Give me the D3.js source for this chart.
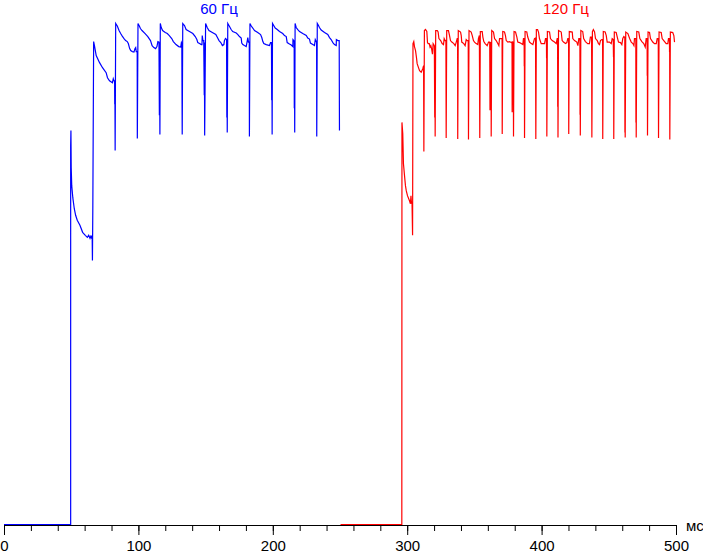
<!DOCTYPE html>
<html>
<head>
<meta charset="utf-8">
<script src="https://cdn.jsdelivr.net/npm/d3@7"></script>
<style>
  html, body { margin: 0; padding: 0; background: #ffffff; }
  svg { display: block; }
  text { font-family: "Liberation Sans", Arial, sans-serif; }
</style>
</head>
<body>
<svg id="chart" width="703" height="553"></svg>
<script>
// ---- Data (time in ms, brightness in % of max) ----
const majorTicks = [0, 100, 200, 300, 400, 500];
const tickLabels = ["0", "100", "200", "300", "400", "500"];
const unitLabel = "мс";
const seriesNames = ["60 Гц", "120 Гц"];
const seriesColors = ["#0000ff", "#ff0000"];

const series60 = [
  [0,0],[49.6,0],
  [49.6,75.3],[49.8,78.5],[50.0,71.1],[50.4,67.5],[51.2,65.1],[52.3,62.9],[53.3,61.6],[54.5,60.6],[56.5,59.6],[58.5,58.2],[60.5,57.6],[62.0,57.2],[63.0,57.6],[64.0,57.0],[64.6,57.4],[65.3,57.0],[65.6,57.6],[65.8,52.6],[66.1,63.5],[66.7,96.2],
  [67.3,95.4],[68.6,93.4],[71.1,92.0],[73.3,91.0],[76.0,90.0],[77.0,89.0],[78.5,88.4],[80.7,88.0],[81.3,88.8],[81.8,88.4],[82.3,88.4],[82.4,83.7],[82.5,88.0],[82.7,74.5],[83.1,99.8],
  [84.3,99.3],[85.6,98.4],[86.8,97.8],[88.0,97.3],[89.3,96.8],[90.5,96.4],[91.7,96.2],[92.5,95.8],[93.5,94.8],[94.3,94.4],[95.5,94.2],[96.7,94.1],[97.5,94.8],[98.0,95.0],[98.4,94.2],[99.1,94.2],[99.2,76.9],[99.7,99.8],
  [100.7,99.3],[101.5,98.8],[102.7,98.4],[105.0,97.8],[107.0,97.2],[109.0,96.4],[110.2,95.4],[111.5,95.0],[112.8,94.8],[113.8,95.2],[114.5,96.2],[115.3,96.1],[115.6,81.5],[115.7,96.0],[116.0,77.7],[116.3,99.8],
  [117.0,99.0],[118.0,98.4],[120.0,98.0],[121.5,97.8],[123.0,97.4],[124.8,96.8],[126.0,96.2],[128.0,95.6],[130.0,95.2],[131.5,95.1],[132.0,96.0],[132.3,95.8],[132.6,77.7],[133.0,99.8],
  [134.3,99.4],[135.5,98.6],[138.0,98.2],[140.5,97.8],[142.3,97.2],[143.5,96.6],[144.2,96.0],[145.5,95.8],[146.8,95.6],[147.3,95.6],[147.5,97.4],[148.0,96.4],[148.6,96.4],[149.0,85.5],[149.1,96.0],[149.3,77.5],[150.0,99.8],
  [151.2,99.0],[152.5,98.4],[155.0,98.0],[157.6,97.6],[158.8,97.0],[160.0,96.4],[161.3,96.0],[162.5,95.4],[163.6,95.6],[164.0,96.4],[164.8,96.8],[165.6,96.6],[165.8,81.1],[165.9,96.0],[166.1,78.1],[166.5,99.8],
  [167.8,99.2],[169.0,98.6],[170.2,98.2],[172.8,97.9],[174.0,97.6],[175.2,97.2],[176.5,96.9],[176.9,95.9],[177.7,95.6],[178.9,95.4],[180.2,95.2],[180.9,96.2],[181.4,97.0],[181.9,96.1],[182.5,96.1],[182.6,77.3],[183.0,99.8],
  [184.0,99.3],[185.1,98.9],[186.4,98.4],[188.8,98.0],[190.9,97.6],[191.8,97.0],[192.6,96.2],[193.3,95.8],[195.1,95.6],[197.5,95.4],[198.3,96.0],[199.0,96.0],[199.2,84.5],[199.3,95.8],[199.5,77.7],[199.8,99.8],
  [200.7,99.4],[201.8,98.9],[203.3,98.6],[205.0,98.2],[207.4,97.8],[208.7,97.4],[210.0,97.2],[210.7,96.0],[212.4,95.7],[213.7,95.5],[214.9,95.2],[215.0,96.6],[215.6,96.4],[215.9,96.2],[216.0,82.9],[216.1,96.0],[216.3,78.1],[216.6,99.8],
  [217.4,99.0],[218.6,98.6],[219.9,98.2],[222.3,97.8],[224.9,97.4],[226.0,96.9],[227.3,96.7],[228.0,95.9],[229.8,95.6],[231.0,95.4],[231.6,96.6],[232.3,96.2],[232.6,96.2],[232.7,77.3],[233.1,99.8],
  [234.0,99.4],[234.7,99.0],[236.0,98.5],[238.5,98.0],[240.9,97.6],[242.2,97.0],[243.4,96.6],[244.7,96.0],[245.9,95.6],[247.2,95.4],[247.3,96.6],[248.4,96.4],[249.4,96.4],[249.6,78.5]
];

const series120 = [
  [250.4,0],[296.0,0],
  [296.1,80.1],[296.7,77.9],[297.2,71.9],[298.0,69.5],[298.7,67.5],[299.3,66.5],[300.2,65.5],[301.7,64.5],[302.4,63.9],[302.8,65.5],[303.2,64.0],[303.6,63.9],[304.0,57.6],[304.3,95.8],
  [304.9,96.2],[305.4,95.2],[306.2,94.4],[306.9,93.0],[307.4,91.8],[308.4,91.0],[309.2,90.4],[310.4,90.1],[311.6,90.8],[312.2,91.4],[312.4,74.3],[312.8,98.4],
  [313.6,98.6],[314.6,98.2],[315.1,96.0],[315.6,95.8],[316.4,95.8],[317.0,95.1],[317.6,95.4],[318.2,94.7],[318.8,93.7],[319.3,95.8],[320.2,95.4],[320.5,81.1],[320.6,95.2],[320.8,77.3],[321.2,98.4],
  [322.4,98.4],[323.0,98.1],[323.6,96.8],[324.9,96.4],[326.0,95.8],[327.0,95.6],[327.5,96.8],[328.2,96.4],[328.8,96.4],[329.0,77.0],[329.4,98.4],
  [330.7,98.4],[331.5,97.4],[332.2,96.4],[333.2,96.1],[334.7,95.8],[335.7,95.4],[336.5,96.1],[337.2,96.8],[337.5,96.8],[337.6,76.8],[338.0,98.4],
  [339.7,98.1],[340.2,97.4],[340.6,96.1],[342.1,95.8],[343.1,95.4],[343.9,96.6],[344.6,96.4],[345.4,96.4],[345.6,76.7],[346.0,98.4],
  [347.6,98.1],[348.4,97.4],[349.3,96.4],[350.1,96.1],[351.3,95.8],[352.5,95.6],[353.0,96.8],[353.7,97.4],[354.0,77.0],[354.4,98.2],
  [355.8,98.2],[356.3,97.1],[357.0,96.2],[358.0,95.8],[359.5,95.4],[360.5,96.1],[361.4,96.1],[361.6,82.5],[361.8,96.0],[362.4,96.0],[362.5,77.3],[362.9,98.4],
  [364.2,98.1],[365.0,96.8],[366.2,96.4],[367.4,95.8],[368.2,95.4],[368.7,96.8],[369.9,96.8],[370.6,96.8],[370.7,77.8],[371.1,98.2],
  [372.4,98.1],[373.1,97.4],[373.7,96.4],[374.9,96.1],[376.1,96.2],[377.4,96.0],[378.0,96.1],[378.1,82.1],[378.3,96.1],[378.9,96.1],[379.1,77.3],[379.5,98.2],
  [380.6,98.1],[381.6,97.1],[382.3,96.1],[383.6,96.0],[384.8,95.8],[386.0,95.6],[386.5,96.8],[387.0,96.8],[387.1,91.3],[387.2,96.6],[387.3,77.0],[387.7,98.2],
  [389.0,98.1],[389.7,97.1],[391.0,96.1],[392.3,95.8],[393.5,95.6],[394.7,96.8],[395.5,96.9],[395.7,76.8],[396.1,98.6],
  [397.0,98.6],[397.7,98.1],[398.4,96.8],[399.7,95.8],[402.2,95.8],[402.9,96.8],[403.6,96.8],[403.7,92.9],[403.8,96.6],[403.9,77.3],[404.3,98.2],
  [405.9,98.1],[406.6,96.8],[407.9,96.4],[409.6,96.1],[410.9,95.8],[411.6,96.8],[411.9,96.8],[412.0,83.2],[412.1,96.6],[412.2,77.1],[412.6,98.4],
  [414.6,98.1],[415.3,96.4],[416.3,96.1],[417.8,95.8],[418.8,96.0],[419.5,96.8],[420.1,96.8],[420.2,77.8],[420.6,98.2],
  [422.8,98.1],[423.2,96.8],[424.5,96.4],[426.2,96.1],[427.0,95.4],[427.7,96.8],[428.5,96.8],[428.6,81.6],[428.7,96.6],[428.8,77.5],[429.2,98.4],
  [430.6,98.2],[431.3,96.8],[432.6,96.2],[434.3,95.8],[435.6,95.8],[436.3,97.1],[437.2,97.1],[437.4,77.1],[437.8,98.2],
  [438.5,98.6],[439.4,98.1],[440.1,96.8],[441.4,96.4],[442.3,95.8],[443.1,95.6],[443.8,96.4],[444.8,96.6],[445.4,96.6],[445.5,76.8],[445.9,98.2],
  [447.3,98.1],[448.1,97.4],[448.8,96.1],[450.5,96.1],[451.8,95.8],[452.5,96.8],[453.3,96.6],[453.5,93.1],[453.6,96.6],[453.7,76.8],[454.1,98.1],
  [455.5,98.0],[456.3,97.1],[457.2,96.1],[458.7,96.0],[459.7,95.6],[460.4,96.8],[461.2,97.2],[461.9,97.0],[462.0,78.1],[462.1,97.0],[462.2,77.1],[462.6,98.1],
  [464.2,97.8],[465.5,96.8],[466.7,96.1],[467.9,95.8],[468.7,95.4],[469.1,96.8],[470.1,96.8],[470.2,80.1],[470.3,96.6],[470.4,77.1],[470.8,98.2],
  [472.3,98.1],[473.1,96.8],[474.6,96.2],[476.0,95.8],[477.1,95.1],[477.8,96.8],[478.5,96.8],[478.6,89.4],[478.7,96.6],[478.8,77.5],[479.2,98.1],
  [480.3,98.0],[481.0,96.8],[482.7,96.1],[484.0,95.8],[485.3,95.8],[486.0,96.8],[486.8,96.8],[487.0,77.0],[487.4,98.1],
  [489.0,98.0],[489.7,96.8],[490.9,96.4],[492.7,95.8],[493.9,95.8],[494.4,96.8],[495.1,96.8],[495.2,94.1],[495.3,96.6],[495.4,76.7],[495.8,98.1],
  [497.6,98.0],[498.4,97.4],[498.9,96.1]
];

// ---- Drawing ----
const svg = d3.select("#chart");
const x = d3.scaleLinear().domain([0, 500]).range([4, 676]);
const y = d3.scaleLinear().domain([0, 100]).range([524.5, 22.5]);

const line = d3.line().x(d => x(d[0])).y(d => y(d[1]));

// minor ticks
const minorAxis = d3.axisBottom(x)
  .tickValues(d3.range(0, 501, 20))
  .tickSize(6).tickSizeOuter(0).tickFormat("");
const gMinor = svg.append("g").attr("transform", "translate(0,525)").call(minorAxis);
gMinor.select(".domain").remove();

// major axis
const majorAxis = d3.axisBottom(x)
  .tickValues(majorTicks)
  .tickSize(10).tickSizeOuter(0).tickPadding(5)
  .tickFormat((d, i) => tickLabels[i]);
const gMajor = svg.append("g").attr("transform", "translate(0,525)").call(majorAxis);
gMajor.selectAll("line, path").attr("stroke", "#000");
gMinor.selectAll("line").attr("stroke", "#000");
gMajor.selectAll("text")
  .attr("font-family", "'Liberation Sans', Arial, sans-serif")
  .attr("font-size", 15).attr("fill", "#000");

svg.append("text")
  .attr("x", 686).attr("y", 530.5)
  .attr("font-size", 15).attr("fill", "#000")
  .text(unitLabel);

// series lines
[series60, series120].forEach((s, i) => {
  svg.append("path")
    .datum(s)
    .attr("fill", "none")
    .attr("stroke", seriesColors[i])
    .attr("stroke-width", 1.2)
    .attr("stroke-linejoin", "miter")
    .attr("d", line);
});

// titles
const titleX = [219, 566];
seriesNames.forEach((n, i) => {
  svg.append("text")
    .attr("x", titleX[i]).attr("y", 14)
    .attr("text-anchor", "middle")
    .attr("font-size", 15)
    .attr("fill", seriesColors[i])
    .text(n);
});
</script>
</body>
</html>
